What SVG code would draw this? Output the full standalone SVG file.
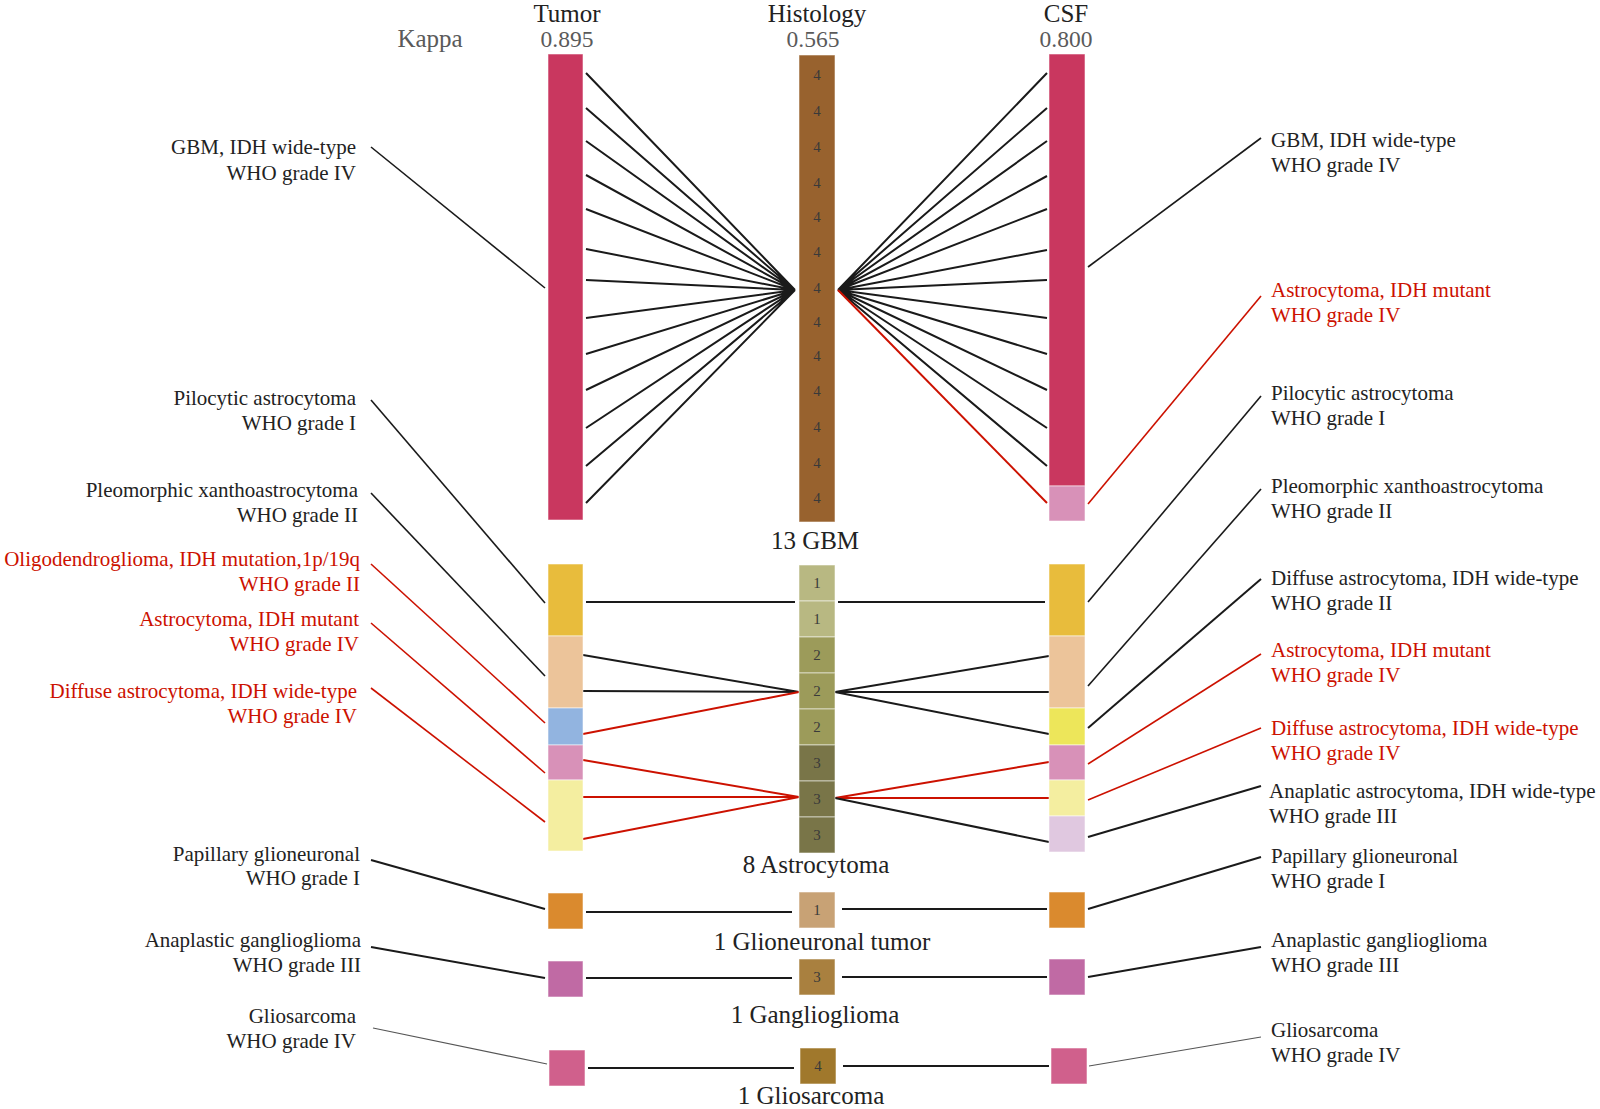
<svg xmlns="http://www.w3.org/2000/svg" width="1600" height="1109" viewBox="0 0 1600 1109">
<style>
text{font-family:"Liberation Serif","Times New Roman",serif}
.hd{font-size:25px;fill:#222;text-anchor:middle}
.kp{font-size:23.5px;fill:#5a5a5a;text-anchor:middle}
.kk{font-size:25px}
.lb{font-size:21px;fill:#222}
.lr{font-size:21px;fill:#cc1100}
.ra{text-anchor:end}
.gp{font-size:25px;fill:#222;text-anchor:middle}
.dg{font-size:15px;fill:#3a3a3a;text-anchor:middle}
.seg{stroke:#ffffff;stroke-opacity:0.55;stroke-width:1}
.k{stroke:#1a1a1a;stroke-width:2;fill:none}
.r{stroke:#cc1100;stroke-width:2;fill:none}
.kl{stroke:#1a1a1a;stroke-width:1.6;fill:none}
.rl{stroke:#cc1100;stroke-width:1.6;fill:none}
.gl{stroke:#555;stroke-width:1.1;fill:none}
</style>
<rect width="1600" height="1109" fill="#fff"/>

<g id="header">
<text class="hd" x="567" y="22">Tumor</text>
<text class="hd" x="817" y="22">Histology</text>
<text class="hd" x="1066" y="22">CSF</text>
<text class="kp kk" x="430" y="47">Kappa</text>
<text class="kp" x="567" y="47">0.895</text>
<text class="kp" x="813" y="47">0.565</text>
<text class="kp" x="1066" y="47">0.800</text>
</g>

<g id="connectors">
<!-- GBM fan left -->
<path class="k" d="M586 73 L795 290 M586 108 L795 290 M586 141 L795 290 M586 175 L795 290 M586 209 L795 290 M586 249 L795 290 M586 280 L795 290 M586 318 L795 290 M586 354 L795 290 M586 390 L795 290 M586 428 L795 290 M586 466 L795 290 M586 503 L795 290"/>
<!-- GBM fan right -->
<path class="k" d="M838 290 L1047 73 M838 290 L1047 108 M838 290 L1047 141 M838 290 L1047 176 M838 290 L1047 209 M838 290 L1047 250 M838 290 L1047 280 M838 290 L1047 318 M838 290 L1047 354 M838 290 L1047 390 M838 290 L1047 428 M838 290 L1047 466"/>
<path class="r" d="M838 290 L1047 503"/>
<!-- Astrocytoma group -->
<path class="k" d="M586 602 L795 602 M838 602 L1045 602"/>
<path class="k" d="M583 655 L799 692 M583 691 L799 692"/>
<path class="r" d="M583 734 L799 692"/>
<path class="k" d="M835 692 L1049 656 M835 692 L1049 692 M835 692 L1049 734"/>
<path class="r" d="M583 760 L799 797 M583 797 L799 797 M583 839 L799 797"/>
<path class="r" d="M835 798 L1049 762 M835 798 L1049 798"/>
<path class="k" d="M835 798 L1049 842"/>
<!-- single rows -->
<path class="k" d="M586 912 L792 912 M842 909 L1047 909"/>
<path class="k" d="M586 978 L792 978 M842 977 L1047 977"/>
<path class="k" d="M588 1068 L794 1068 M843 1066 L1049 1066"/>
<!-- left leader lines -->
<path class="kl" d="M371 147 L545 288"/>
<path class="kl" d="M371 400 L545 603"/>
<path class="kl" d="M371 493 L545 676"/>
<path class="rl" d="M371 564 L545 723"/>
<path class="rl" d="M371 623 L545 773"/>
<path class="rl" d="M371 688 L545 822"/>
<path class="k" d="M371 860 L545 909"/>
<path class="k" d="M371 947 L545 978"/>
<path class="gl" d="M373 1028 L547 1064"/>
<!-- right leader lines -->
<path class="kl" d="M1088 267 L1261 138"/>
<path class="rl" d="M1088 504 L1261 296"/>
<path class="kl" d="M1088 602 L1261 396"/>
<path class="kl" d="M1088 686 L1261 489"/>
<path class="k" d="M1088 728 L1261 579"/>
<path class="rl" d="M1088 764 L1261 654"/>
<path class="rl" d="M1088 800 L1261 728"/>
<path class="k" d="M1088 837 L1261 786"/>
<path class="k" d="M1088 909 L1261 857"/>
<path class="k" d="M1088 977 L1261 947"/>
<path class="gl" d="M1089 1066 L1261 1037"/>
</g>

<g id="tumor-bars">
<rect class="seg" x="548" y="54" width="35" height="466" fill="#c9375f"/>
<rect class="seg" x="548" y="564" width="35" height="72" fill="#e8bc3c"/>
<rect class="seg" x="548" y="636" width="35" height="72" fill="#ecc49a"/>
<rect class="seg" x="548" y="708" width="35" height="37" fill="#92b4e0"/>
<rect class="seg" x="548" y="745" width="35" height="35" fill="#d891b8"/>
<rect class="seg" x="548" y="780" width="35" height="71" fill="#f4eea0"/>
<rect class="seg" x="548" y="893" width="35" height="36" fill="#da8a2e"/>
<rect class="seg" x="548" y="961" width="35" height="36" fill="#c06aa4"/>
<rect class="seg" x="549" y="1050" width="36" height="36" fill="#d0608c"/>
</g>

<g id="histology-gbm">
<rect class="seg" x="799" y="55" width="36" height="467" fill="#98622e"/>
<text class="dg" x="817" y="80">4</text>
<text class="dg" x="817" y="116">4</text>
<text class="dg" x="817" y="152">4</text>
<text class="dg" x="817" y="188">4</text>
<text class="dg" x="817" y="222">4</text>
<text class="dg" x="817" y="257">4</text>
<text class="dg" x="817" y="293">4</text>
<text class="dg" x="817" y="327">4</text>
<text class="dg" x="817" y="361">4</text>
<text class="dg" x="817" y="396">4</text>
<text class="dg" x="817" y="432">4</text>
<text class="dg" x="817" y="468">4</text>
<text class="dg" x="817" y="503">4</text>
<text class="gp" x="815" y="549">13 GBM</text>
</g>

<g id="histology-astro">
<rect class="seg" x="799" y="565" width="36" height="36" fill="#b8b882"/>
<rect class="seg" x="799" y="601" width="36" height="36" fill="#b8b882"/>
<rect class="seg" x="799" y="637" width="36" height="36" fill="#9c9b5a"/>
<rect class="seg" x="799" y="673" width="36" height="36" fill="#9c9b5a"/>
<rect class="seg" x="799" y="709" width="36" height="36" fill="#9c9b5a"/>
<rect class="seg" x="799" y="745" width="36" height="36" fill="#797548"/>
<rect class="seg" x="799" y="781" width="36" height="36" fill="#797548"/>
<rect class="seg" x="799" y="817" width="36" height="36" fill="#797548"/>
<text class="dg" x="817" y="588">1</text>
<text class="dg" x="817" y="624">1</text>
<text class="dg" x="817" y="660">2</text>
<text class="dg" x="817" y="696">2</text>
<text class="dg" x="817" y="732">2</text>
<text class="dg" x="817" y="768">3</text>
<text class="dg" x="817" y="804">3</text>
<text class="dg" x="817" y="840">3</text>
<text class="gp" x="816" y="873">8 Astrocytoma</text>
</g>

<g id="histology-glioneuronal">
<rect class="seg" x="799" y="892" width="36" height="36" fill="#c8a275"/>
<text class="dg" x="817" y="915">1</text>
<text class="gp" x="822" y="950">1 Glioneuronal tumor</text>
</g>
<g id="histology-ganglioglioma">
<rect class="seg" x="799" y="959" width="36" height="36" fill="#a9803f"/>
<text class="dg" x="817" y="982">3</text>
<text class="gp" x="815" y="1023">1 Ganglioglioma</text>
</g>
<g id="histology-gliosarcoma">
<rect class="seg" x="800" y="1048" width="36" height="36" fill="#a0782c"/>
<text class="dg" x="818" y="1071">4</text>
<text class="gp" x="811" y="1104">1 Gliosarcoma</text>
</g>

<g id="csf-bars">
<rect class="seg" x="1049" y="54" width="36" height="432" fill="#c9375f"/>
<rect class="seg" x="1049" y="486" width="36" height="35" fill="#d891b8"/>
<rect class="seg" x="1049" y="564" width="36" height="72" fill="#e8bc3c"/>
<rect class="seg" x="1049" y="636" width="36" height="72" fill="#ecc49a"/>
<rect class="seg" x="1049" y="708" width="36" height="37" fill="#ede65a"/>
<rect class="seg" x="1049" y="745" width="36" height="35" fill="#d891b8"/>
<rect class="seg" x="1049" y="780" width="36" height="36" fill="#f4eea0"/>
<rect class="seg" x="1049" y="816" width="36" height="36" fill="#e0c8e0"/>
<rect class="seg" x="1049" y="892" width="36" height="36" fill="#da8a2e"/>
<rect class="seg" x="1049" y="959" width="36" height="36" fill="#c06aa4"/>
<rect class="seg" x="1051" y="1048" width="36" height="36" fill="#d0608c"/>
</g>

<g id="left-labels">
<text class="lb ra" x="356" y="154">GBM, IDH wide-type</text>
<text class="lb ra" x="356" y="180">WHO grade IV</text>
<text class="lb ra" x="356" y="405">Pilocytic astrocytoma</text>
<text class="lb ra" x="356" y="430">WHO grade I</text>
<text class="lb ra" x="358" y="497">Pleomorphic xanthoastrocytoma</text>
<text class="lb ra" x="358" y="522">WHO grade II</text>
<text class="lr ra" x="360" y="566">Oligodendroglioma, IDH mutation,1p/19q</text>
<text class="lr ra" x="360" y="591">WHO grade II</text>
<text class="lr ra" x="359" y="626">Astrocytoma, IDH mutant</text>
<text class="lr ra" x="359" y="651">WHO grade IV</text>
<text class="lr ra" x="357" y="698">Diffuse astrocytoma, IDH wide-type</text>
<text class="lr ra" x="357" y="723">WHO grade IV</text>
<text class="lb ra" x="360" y="861">Papillary glioneuronal</text>
<text class="lb ra" x="360" y="885">WHO grade I</text>
<text class="lb ra" x="361" y="947">Anaplastic ganglioglioma</text>
<text class="lb ra" x="361" y="972">WHO grade III</text>
<text class="lb ra" x="356" y="1023">Gliosarcoma</text>
<text class="lb ra" x="356" y="1048">WHO grade IV</text>
</g>

<g id="right-labels">
<text class="lb" x="1271" y="147">GBM, IDH wide-type</text>
<text class="lb" x="1271" y="172">WHO grade IV</text>
<text class="lr" x="1271" y="297">Astrocytoma, IDH mutant</text>
<text class="lr" x="1271" y="322">WHO grade IV</text>
<text class="lb" x="1271" y="400">Pilocytic astrocytoma</text>
<text class="lb" x="1271" y="425">WHO grade I</text>
<text class="lb" x="1271" y="493">Pleomorphic xanthoastrocytoma</text>
<text class="lb" x="1271" y="518">WHO grade II</text>
<text class="lb" x="1271" y="585">Diffuse astrocytoma, IDH wide-type</text>
<text class="lb" x="1271" y="610">WHO grade II</text>
<text class="lr" x="1271" y="657">Astrocytoma, IDH mutant</text>
<text class="lr" x="1271" y="682">WHO grade IV</text>
<text class="lr" x="1271" y="735">Diffuse astrocytoma, IDH wide-type</text>
<text class="lr" x="1271" y="760">WHO grade IV</text>
<text class="lb" x="1269" y="798">Anaplatic astrocytoma, IDH wide-type</text>
<text class="lb" x="1269" y="823">WHO grade III</text>
<text class="lb" x="1271" y="863">Papillary glioneuronal</text>
<text class="lb" x="1271" y="888">WHO grade I</text>
<text class="lb" x="1271" y="947">Anaplastic ganglioglioma</text>
<text class="lb" x="1271" y="972">WHO grade III</text>
<text class="lb" x="1271" y="1037">Gliosarcoma</text>
<text class="lb" x="1271" y="1062">WHO grade IV</text>
</g>
</svg>
